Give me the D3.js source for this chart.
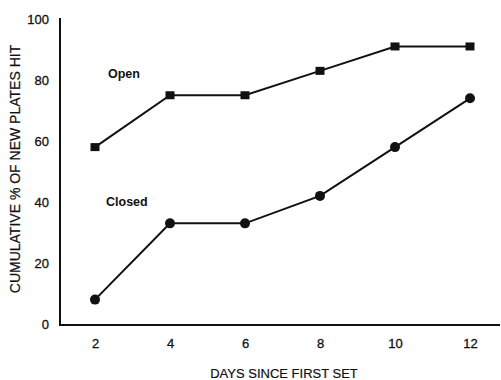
<!DOCTYPE html>
<html>
<head>
<meta charset="utf-8">
<script src="https://cdn.jsdelivr.net/npm/d3@7"></script>
<style>
body { margin: 0; background: #fff; }
text { font-family: "Liberation Sans", Arial, sans-serif; fill: #111; }
</style>
</head>
<body>
<svg id="chart" width="501" height="380"></svg>
<script>
const days = [2, 4, 6, 8, 10, 12];
const openValues = [58, 75, 75, 83, 91, 91];
const closedValues = [8, 33, 33, 42, 58, 74];
const yTicks = [0, 20, 40, 60, 80, 100];
const seriesLabels = ["Open", "Closed"];
const xTitle = "DAYS SINCE FIRST SET";
const yTitle = "CUMULATIVE % OF NEW PLATES HIT";

const svg = d3.select("#chart");
const x = d3.scaleLinear().domain([2, 12]).range([95, 470]);
const y = d3.scaleLinear().domain([0, 100]).range([324, 19]);
const axisLeftX = 60;

// Axes lines
svg.append("line").attr("x1", axisLeftX).attr("x2", axisLeftX)
  .attr("y1", 18).attr("y2", 325).attr("stroke", "#111").attr("stroke-width", 2);
svg.append("line").attr("x1", axisLeftX - 1).attr("x2", 500)
  .attr("y1", 325).attr("y2", 325).attr("stroke", "#111").attr("stroke-width", 2);

// Y ticks (labels only)
const yAxis = d3.axisLeft(y).tickValues(yTicks).tickSize(0).tickPadding(0);
const yg = svg.append("g").attr("transform", `translate(${axisLeftX - 11},0)`).call(yAxis);
yg.select(".domain").remove();
yg.selectAll("text").style("font-size", "13px").style("font-family", "Liberation Sans, Arial, sans-serif")
  .attr("fill", "#111").attr("stroke", "#111").attr("stroke-width", 0.3);

// X ticks (labels only)
const xAxis = d3.axisBottom(x).tickValues(days).tickSize(0).tickPadding(0);
const xg = svg.append("g").attr("transform", "translate(0,339)").call(xAxis);
xg.select(".domain").remove();
xg.selectAll("text").style("font-size", "13px").style("font-family", "Liberation Sans, Arial, sans-serif")
  .attr("fill", "#111").attr("stroke", "#111").attr("stroke-width", 0.3);

// Titles
svg.append("text").attr("x", 284).attr("y", 378).attr("text-anchor", "middle")
  .style("font-size", "13px").attr("stroke", "#111").attr("stroke-width", 0.2).text(xTitle);
svg.append("text").attr("transform", "translate(20,169) rotate(-90)")
  .attr("text-anchor", "middle").style("font-size", "14px")
  .attr("stroke", "#111").attr("stroke-width", 0.2).text(yTitle);

const line = d3.line().x((d, i) => x(days[i])).y(d => y(d));

svg.append("path").datum(openValues).attr("d", line)
  .attr("fill", "none").attr("stroke", "#111").attr("stroke-width", 2);
svg.append("path").datum(closedValues).attr("d", line)
  .attr("fill", "none").attr("stroke", "#111").attr("stroke-width", 2);

svg.selectAll("rect.open").data(openValues).enter().append("rect")
  .attr("class", "open")
  .attr("x", (d, i) => x(days[i]) - 4.5).attr("y", d => y(d) - 4)
  .attr("width", 9).attr("height", 8).attr("fill", "#111");

svg.selectAll("circle.closed").data(closedValues).enter().append("circle")
  .attr("class", "closed")
  .attr("cx", (d, i) => x(days[i])).attr("cy", d => y(d)).attr("r", 5)
  .attr("fill", "#111");

// Series labels
svg.append("text").attr("x", 108).attr("y", 78).style("font-size", "12.5px")
  .style("font-weight", "bold").text(seriesLabels[0]);
svg.append("text").attr("x", 106).attr("y", 206).style("font-size", "12.5px")
  .style("font-weight", "bold").text(seriesLabels[1]);
</script>
</body>
</html>
